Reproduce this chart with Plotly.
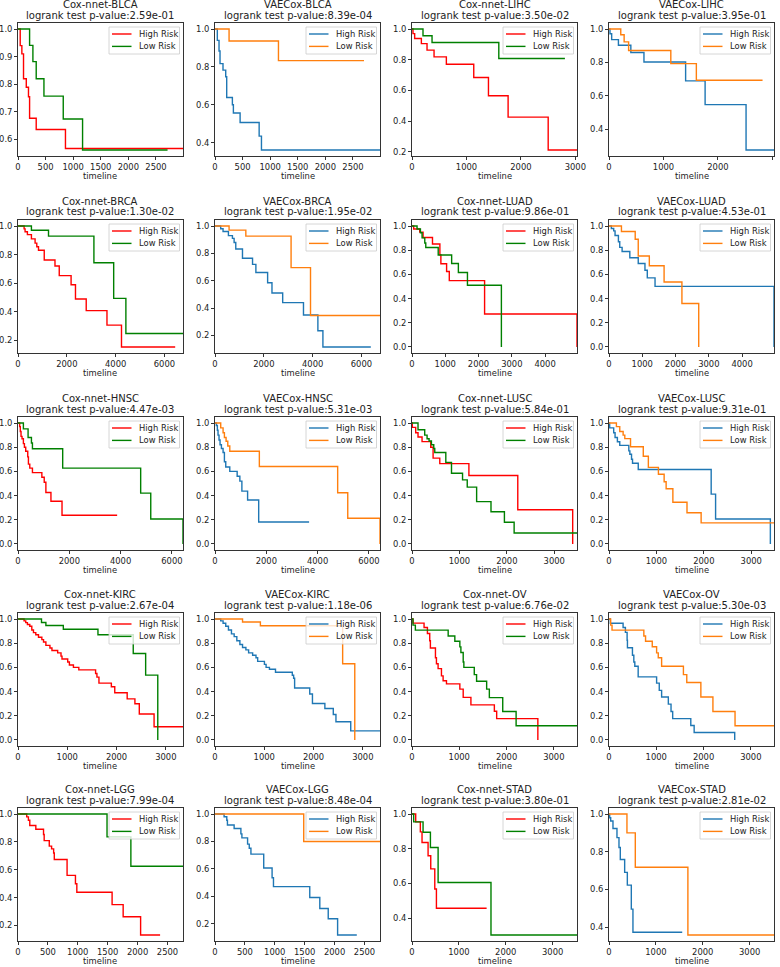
import plotly.graph_objects as go

# ---- data (time in days, survival probability) ----
models = ["Cox-nnet", "VAECox", "Cox-nnet", "VAECox"] * 5
cancers = ["BLCA", "BLCA", "LIHC", "LIHC",
           "BRCA", "BRCA", "LUAD", "LUAD",
           "HNSC", "HNSC", "LUSC", "LUSC",
           "KIRC", "KIRC", "OV", "OV",
           "LGG", "LGG", "STAD", "STAD"]
pvalues = ["2.59e-01", "8.39e-04", "3.50e-02", "3.95e-01",
           "1.30e-02", "1.95e-02", "9.86e-01", "4.53e-01",
           "4.47e-03", "5.31e-03", "5.84e-01", "9.31e-01",
           "2.67e-04", "1.18e-06", "6.76e-02", "5.30e-03",
           "7.99e-04", "8.48e-04", "3.80e-01", "2.81e-02"]
x_dtick = [500, 500, 1000, 1000, 2000, 2000, 1000, 1000, 2000, 2000,
           1000, 1000, 1000, 1000, 1000, 1000, 500, 500, 1000, 1000]
y_dtick = [0.1] + [0.2] * 19
legend_names = ["High Risk", "Low Risk"]

# BLCA
blca_cox_high_t = [0, 40, 70, 100, 150, 190, 210, 330, 860, 2990]
blca_cox_high_s = [1, .94, .91, .82, .789, .755, .677, .636, .567, .567]
blca_cox_low_t = [0, 210, 270, 330, 470, 820, 1170, 2710]
blca_cox_low_s = [1, .941, .882, .82, .757, .674, .562, .562]
blca_vae_high_t = [0, 42, 73, 91, 145, 194, 212, 315, 333, 455, 800, 842, 2990]
blca_vae_high_s = [1, .94, .884, .817, .783, .748, .638, .6, .556, .506, .434, .361, .361]
blca_vae_low_t = [0, 255, 1150, 2700]
blca_vae_low_s = [1, .937, .833, .833]

# LIHC
lihc_cox_high_t = [0, 18, 49, 172, 276, 405, 631, 1134, 1404, 1765, 2501, 3030]
lihc_cox_high_s = [1, .97, .938, .905, .863, .819, .771, .685, .566, .427, .213, .213]
lihc_cox_low_t = [0, 202, 368, 1594, 2808]
lihc_cox_low_s = [1, .956, .912, .808, .808]
lihc_vae_high_t = [0, 18, 49, 173, 401, 642, 1407, 1765, 2517, 3030]
lihc_vae_high_s = [1, .972, .937, .903, .86, .803, .69, .548, .277, .277]
lihc_vae_low_t = [0, 216, 278, 360, 1135, 1604, 2820]
lihc_vae_low_s = [1, .966, .923, .872, .793, .694, .694]

# BRCA
brca_cox_high_t = [0, 250, 290, 385, 550, 700, 770, 840, 1075, 1515, 1690, 2175, 2355, 2795, 3645, 4240, 6440]
brca_cox_high_s = [1, .98, .96, .94, .91, .88, .855, .83, .762, .72, .652, .588, .488, .407, .305, .152, .152]
brca_cox_low_t = [0, 550, 1250, 3110, 3920, 4420, 6760]
brca_cox_low_s = [1, .971, .929, .743, .493, .246, .246]
brca_vae_high_t = [0, 233, 330, 550, 714, 783, 851, 1126, 1538, 1675, 2156, 2334, 2773, 3625, 4215, 4421, 6384]
brca_vae_high_s = [1, .98, .96, .93, .91, .88, .832, .765, .72, .66, .585, .51, .44, .35, .235, .116, .116]
brca_vae_low_t = [0, 577, 1263, 3117, 3913, 6760]
brca_vae_low_s = [1, .97, .926, .696, .346, .346]

# LUAD
luad_cox_high_t = [0, 50, 232, 333, 616, 838, 868, 1040, 1121, 2182, 4960, 4960]
luad_cox_high_s = [1, .975, .95, .905, .852, .763, .688, .624, .549, .273, .273, 0]
luad_cox_low_t = [0, 152, 253, 303, 384, 414, 788, 1192, 1394, 1667, 2687]
luad_cox_low_s = [1, .975, .944, .902, .86, .822, .76, .69, .616, .51, 0]
luad_vae_high_t = [0, 71, 141, 182, 283, 323, 394, 626, 879, 1081, 1151, 1384, 4960, 4960]
luad_vae_high_s = [1, .98, .96, .922, .87, .824, .79, .738, .69, .635, .571, .501, .501, 0]
luad_vae_low_t = [0, 374, 788, 879, 1212, 1656, 2192, 2697]
luad_vae_low_s = [1, .955, .891, .752, .671, .537, .359, 0]

# HNSC
hnsc_cox_high_t = [0, 65, 90, 118, 157, 210, 250, 301, 380, 406, 459, 563, 930, 1022, 1087, 1284, 1716, 3865]
hnsc_cox_high_s = [1, .97, .93, .89, .87, .83, .80, .767, .72, .66, .627, .59, .552, .51, .426, .353, .238, .238]
hnsc_cox_low_t = [0, 210, 393, 524, 563, 1742, 4782, 5175, 6432, 6432]
hnsc_cox_low_s = [1, .952, .88, .835, .787, .627, .42, .207, .207, 0]
hnsc_vae_high_t = [0, 53, 92, 118, 157, 197, 250, 315, 367, 419, 576, 864, 969, 1048, 1271, 1703, 3668]
hnsc_vae_high_s = [1, .98, .94, .90, .86, .82, .79, .757, .68, .636, .60, .56, .52, .437, .364, .182, .182]
hnsc_vae_low_t = [0, 223, 315, 367, 432, 498, 576, 1729, 4782, 5175, 6432, 6432]
hnsc_vae_low_s = [1, .96, .92, .88, .85, .81, .767, .641, .423, .213, .213, 0]

# LUSC
lusc_cox_high_t = [0, 7, 78, 127, 212, 395, 445, 586, 1200, 2231, 3389]
lusc_cox_high_s = [1, .964, .92, .885, .846, .80, .71, .664, .566, .283, 0]
lusc_cox_low_t = [0, 127, 268, 318, 360, 410, 459, 480, 713, 833, 1066, 1165, 1363, 1666, 1949, 2154, 3480]
lusc_cox_low_s = [1, .944, .90, .87, .852, .82, .79, .756, .675, .585, .53, .47, .35, .266, .179, .09, .09]
lusc_vae_high_t = [0, 14, 99, 128, 177, 227, 418, 440, 475, 496, 617, 2155, 2248, 3403]
lusc_vae_high_s = [1, .96, .92, .88, .845, .815, .77, .742, .70, .667, .616, .412, .207, 0]
lusc_vae_low_t = [0, 156, 227, 298, 333, 454, 723, 830, 1042, 1163, 1205, 1347, 1645, 1943, 3480]
lusc_vae_low_s = [1, .97, .93, .90, .871, .804, .725, .633, .577, .515, .457, .345, .258, .174, .174]

# KIRC
kirc_cox_high_t = [0, 123, 157, 191, 239, 280, 314, 361, 416, 484, 518, 566, 648, 689, 805, 873, 893, 1009,
                   1043, 1125, 1234, 1575, 1602, 1643, 1895, 1964, 2216, 2373, 2462, 2762, 3349]
kirc_cox_high_s = [1, .985, .97, .955, .94, .91, .888, .87, .85, .83, .81, .782, .76, .74, .72, .693, .67, .645,
                   .62, .60, .58, .55, .52, .47, .44, .39, .34, .30, .215, .109, .109]
kirc_cox_low_t = [0, 477, 566, 920, 1623, 2339, 2591, 2837]
kirc_cox_low_s = [1, .972, .947, .916, .87, .715, .536, 0]
kirc_vae_high_t = [0, 116, 164, 218, 273, 334, 389, 443, 505, 559, 627, 682, 764, 832, 866, 1003, 1037, 1105,
                   1228, 1569, 1596, 1616, 1923, 1978, 2230, 2401, 2455, 2755, 3349]
kirc_vae_high_s = [1, .985, .965, .94, .91, .877, .855, .82, .79, .765, .745, .72, .70, .68, .65, .625, .60, .585,
                   .56, .535, .51, .43, .38, .302, .26, .21, .15, .075, .075]
kirc_vae_low_t = [0, 559, 921, 2591, 2837]
kirc_vae_low_s = [1, .975, .944, .63, 0]

# OV
ov_cox_high_t = [0, 21, 255, 326, 375, 389, 496, 517, 552, 623, 658, 729, 1012, 1083, 1246, 1742, 1791, 2662]
ov_cox_high_s = [1, .966, .93, .88, .82, .76, .68, .63, .59, .53, .49, .464, .42, .352, .29, .237, .176, 0]
ov_cox_low_t = [0, 21, 71, 765, 906, 1012, 1034, 1083, 1097, 1317, 1366, 1579, 1636, 1919, 2202, 3490]
ov_cox_low_s = [1, .95, .908, .86, .816, .77, .723, .645, .60, .54, .486, .42, .35, .235, .117, .117]
ov_vae_high_t = [0, 28, 298, 347, 383, 390, 496, 525, 546, 617, 1007, 1063, 1113, 1255, 1312, 1347, 1730, 1801, 2659]
ov_vae_high_s = [1, .965, .93, .89, .825, .763, .70, .645, .61, .522, .47, .41, .355, .296, .235, .176, .12, .062, 0]
ov_vae_low_t = [0, 35, 64, 737, 773, 915, 1007, 1042, 1113, 1574, 1645, 1943, 2198, 2666, 3490]
ov_vae_low_s = [1, .95, .908, .86, .816, .771, .72, .68, .609, .54, .475, .355, .235, .117, .117]

# LGG
lgg_cox_high_t = [0, 146, 174, 197, 298, 427, 438, 523, 562, 596, 607, 821, 961, 984, 1574, 1759, 2051, 2377]
lgg_cox_high_s = [1, .98, .955, .918, .891, .853, .809, .77, .75, .72, .674, .56, .50, .439, .35, .263, .132, .132]
lgg_cox_low_t = [0, 1489, 1888, 2760]
lgg_cox_low_s = [1, .836, .625, .625]
lgg_vae_high_t = [0, 152, 197, 208, 320, 433, 450, 545, 573, 601, 815, 955, 978, 1585, 1753, 1894, 2051, 2372]
lgg_vae_high_s = [1, .98, .955, .92, .894, .855, .826, .78, .75, .707, .606, .535, .47, .39, .31, .235, .117, .117]
lgg_vae_low_t = [0, 1484, 2760]
lgg_vae_low_s = [1, .80, .80]

# STAD
stad_cox_high_t = [0, 79, 178, 214, 343, 400, 486, 521, 1592]
stad_cox_high_s = [1, .955, .897, .836, .76, .684, .568, .457, .457]
stad_cox_low_t = [0, 36, 236, 393, 557, 1685, 3520]
stad_cox_low_s = [1, .955, .895, .807, .605, .303, .303]
stad_vae_high_t = [0, 14, 36, 85, 170, 213, 241, 334, 391, 476, 511, 1562]
stad_vae_high_s = [1, .98, .963, .923, .875, .823, .759, .691, .623, .496, .373, .373]
stad_vae_low_t = [0, 383, 561, 1683, 3520]
stad_vae_low_s = [1, .90, .718, .359, .359]

curves = [
    (blca_cox_high_t, blca_cox_high_s, blca_cox_low_t, blca_cox_low_s),
    (blca_vae_high_t, blca_vae_high_s, blca_vae_low_t, blca_vae_low_s),
    (lihc_cox_high_t, lihc_cox_high_s, lihc_cox_low_t, lihc_cox_low_s),
    (lihc_vae_high_t, lihc_vae_high_s, lihc_vae_low_t, lihc_vae_low_s),
    (brca_cox_high_t, brca_cox_high_s, brca_cox_low_t, brca_cox_low_s),
    (brca_vae_high_t, brca_vae_high_s, brca_vae_low_t, brca_vae_low_s),
    (luad_cox_high_t, luad_cox_high_s, luad_cox_low_t, luad_cox_low_s),
    (luad_vae_high_t, luad_vae_high_s, luad_vae_low_t, luad_vae_low_s),
    (hnsc_cox_high_t, hnsc_cox_high_s, hnsc_cox_low_t, hnsc_cox_low_s),
    (hnsc_vae_high_t, hnsc_vae_high_s, hnsc_vae_low_t, hnsc_vae_low_s),
    (lusc_cox_high_t, lusc_cox_high_s, lusc_cox_low_t, lusc_cox_low_s),
    (lusc_vae_high_t, lusc_vae_high_s, lusc_vae_low_t, lusc_vae_low_s),
    (kirc_cox_high_t, kirc_cox_high_s, kirc_cox_low_t, kirc_cox_low_s),
    (kirc_vae_high_t, kirc_vae_high_s, kirc_vae_low_t, kirc_vae_low_s),
    (ov_cox_high_t, ov_cox_high_s, ov_cox_low_t, ov_cox_low_s),
    (ov_vae_high_t, ov_vae_high_s, ov_vae_low_t, ov_vae_low_s),
    (lgg_cox_high_t, lgg_cox_high_s, lgg_cox_low_t, lgg_cox_low_s),
    (lgg_vae_high_t, lgg_vae_high_s, lgg_vae_low_t, lgg_vae_low_s),
    (stad_cox_high_t, stad_cox_high_s, stad_cox_low_t, stad_cox_low_s),
    (stad_vae_high_t, stad_vae_high_s, stad_vae_low_t, stad_vae_low_s),
]

colors = {"Cox-nnet": ("#ff0000", "#008000"), "VAECox": ("#1f77b4", "#ff7f0e")}

# ---- layout (pixels) ----
W, H = 780, 967
col_left = [18, 215, 412, 609]
row_top = [23, 220, 417, 613, 808]
pw, ph = 165, 133
FONT = "DejaVu Sans"
TXT = "#222222"


def px(x):
    return x / W


def py(y):
    return 1 - y / H


fig = go.Figure()
annotations = []
shapes = []
for k in range(20):
    r, c = divmod(k, 4)
    n = "" if k == 0 else str(k + 1)
    ht, hs, lt, ls = curves[k]
    pair = colors[models[k]]
    for (t, s), col, name in zip([(ht, hs), (lt, ls)], pair, legend_names):
        fig.add_trace(go.Scatter(x=t, y=s, mode="lines", line=dict(color=col, width=1.4, shape="hv"),
                                 name=name, showlegend=False, xaxis="x" + n, yaxis="y" + n))

    L, T = col_left[c], row_top[r]
    R, B = L + pw, T + ph
    smin = min(min(hs), min(ls))
    pad = 0.05 * (1 - smin)
    xmax = max(max(ht), max(lt))
    axis_common = dict(showline=True, linecolor="#333333", linewidth=0.8, mirror=True, ticks="outside",
                       ticklen=3, tickwidth=0.8, tickcolor="#333333", showgrid=False, zeroline=False,
                       tickfont=dict(size=8.4, color=TXT, family=FONT), automargin=False)
    fig.layout["xaxis" + n] = dict(domain=[px(L), px(R)], anchor="y" + n, range=[0, xmax],
                                   tick0=0, dtick=x_dtick[k], **axis_common)
    fig.layout["yaxis" + n] = dict(domain=[py(B), py(T)], anchor="x" + n, range=[smin - pad, 1 + pad],
                                   tick0=0, dtick=y_dtick[k], tickformat=".1f", **axis_common)

    # legend box in the upper right corner of each panel
    shapes.append(dict(type="rect", xref="paper", yref="paper", x0=px(R - 74), x1=px(R - 3.5),
                       y0=py(T + 31), y1=py(T + 4), fillcolor="rgba(255,255,255,0.8)",
                       line=dict(color="#cccccc", width=0.8)))
    for i, (col, name) in enumerate(zip(pair, legend_names)):
        yy = T + 11 + 12.4 * i
        shapes.append(dict(type="line", xref="paper", yref="paper", x0=px(R - 71), x1=px(R - 51.5),
                           y0=py(yy), y1=py(yy), line=dict(color=col, width=1.4)))
        annotations.append(dict(text=name, x=px(R - 46.5), y=py(yy), xref="paper", yref="paper",
                                showarrow=False, xanchor="left", yanchor="middle",
                                font=dict(size=8.4, color=TXT, family=FONT)))

    xc = px(L + pw / 2)
    annotations.append(dict(text=f"{models[k]}-{cancers[k]}", x=xc, y=py(T - 19),
                            xref="paper", yref="paper", showarrow=False, xanchor="center", yanchor="middle",
                            font=dict(size=10, color=TXT, family=FONT)))
    annotations.append(dict(text=f"logrank test p-value:{pvalues[k]}", x=xc, y=py(T - 8),
                            xref="paper", yref="paper", showarrow=False, xanchor="center", yanchor="middle",
                            font=dict(size=10, color=TXT, family=FONT)))
    annotations.append(dict(text="timeline", x=xc, y=py(B + 20),
                            xref="paper", yref="paper", showarrow=False, xanchor="center", yanchor="middle",
                            font=dict(size=8.4, color=TXT, family=FONT)))

fig.update_layout(width=W, height=H, margin=dict(l=0, r=0, t=0, b=0),
                  paper_bgcolor="white", plot_bgcolor="white", showlegend=False,
                  font=dict(family=FONT), annotations=annotations, shapes=shapes)
fig.write_html("out.html", config={"displayModeBar": False},
               post_script="document.body.style.margin='0px';")
